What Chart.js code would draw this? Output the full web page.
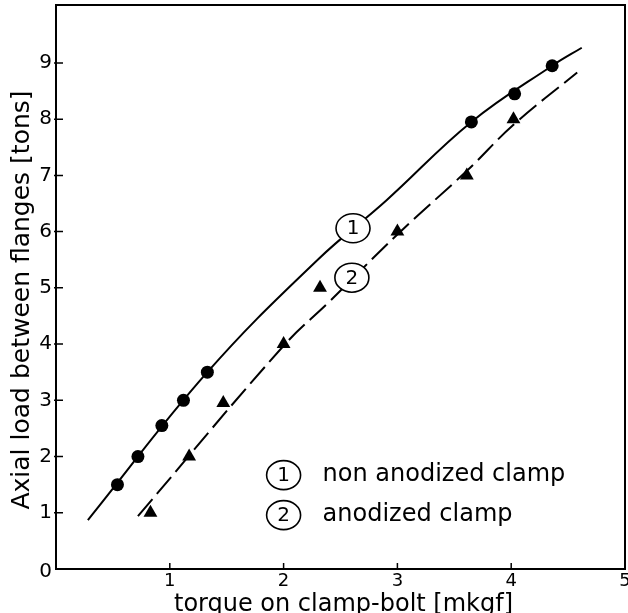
<!DOCTYPE html>
<html>
<head>
<meta charset="utf-8">
<title>Axial load vs torque</title>
<script src="https://cdn.jsdelivr.net/npm/chart.js@4.4.1/dist/chart.umd.min.js"></script>
<style>
	html, body { margin: 0; padding: 0; background: #fff; }
	#wrap { width: 628px; height: 613px; }
</style>
</head>
<body>
<div id="wrap"><canvas id="torqueChart" width="628" height="613"></canvas></div>
<script>
// (1) non anodized clamp - measured points (circles)
const circleTorque = [0.54, 0.72, 0.93, 1.12, 1.33, 3.65, 4.03, 4.36];
const circleLoad   = [1.5, 2.0, 2.55, 3.0, 3.5, 7.95, 8.45, 8.95];

// (2) anodized clamp - measured points (triangles)
const triangleTorque = [0.83, 1.17, 1.47, 2.0, 2.32, 3.0, 3.61, 4.02];
const triangleLoad   = [1.0, 2.0, 2.95, 4.0, 5.0, 6.0, 7.0, 8.0];

// hand drawn curves through the points
const curve1Torque = [0.28, 1.33, 2.3, 2.9, 3.65, 4.36, 4.62];
const curve1Load   = [0.87, 3.5, 5.5, 6.55, 7.95, 8.95, 9.27];
const curve2Torque = [0.72, 2.0, 2.4, 3.0, 3.62, 4.02, 4.58];
const curve2Load   = [0.94, 3.97, 4.75, 5.95, 7.1, 7.9, 8.83];

const xTicks = [1, 2, 3, 4, 5];
const yTicks = [0, 1, 2, 3, 4, 5, 6, 7, 8, 9];

const xTitle = 'torque on clamp-bolt [mkgf]';
const yTitle = 'Axial load between flanges [tons]';
const curveNames = ['non anodized clamp', 'anodized clamp'];

const FONT = "'DejaVu Sans', sans-serif";

document.addEventListener('DOMContentLoaded', function()
{
	drawChart();
});

function toPoints(xs, ys)
{
	return xs.map((x, i) => ({ x: x, y: ys[i] }));
}

// little circled number, like in the drawing
function circledNumber(ctx, cx, cy, txt)
{
	ctx.beginPath();
	ctx.ellipse(cx, cy, 17, 14.5, 0, 0, Math.PI * 2);
	ctx.fillStyle = '#fff';
	ctx.fill();
	ctx.lineWidth = 1.6;
	ctx.strokeStyle = '#000';
	ctx.stroke();
	ctx.fillStyle = '#000';
	ctx.font = '20px ' + FONT;
	ctx.textAlign = 'center';
	ctx.textBaseline = 'middle';
	ctx.fillText(txt, cx, cy + 1);
}

// frame, inward ticks, tick labels, axis titles, curve labels and legend
const framePlugin = {
	id: 'frame',
	afterDatasetsDraw(chart)
	{
		const ctx = chart.ctx;
		const a = chart.chartArea;
		const xs = chart.scales.x;
		const ys = chart.scales.y;

		ctx.save();
		ctx.strokeStyle = '#000';
		ctx.lineWidth = 2;
		ctx.strokeRect(a.left, a.top, a.right - a.left, a.bottom - a.top);

		ctx.lineWidth = 1.5;
		ctx.beginPath();
		yTicks.forEach(v => {
			if (v === 0) return;
			const py = ys.getPixelForValue(v);
			ctx.moveTo(a.left - 2, py);
			ctx.lineTo(a.left + 7, py);
		});
		xTicks.forEach(v => {
			const px = xs.getPixelForValue(v);
			ctx.moveTo(px, a.bottom + 1);
			ctx.lineTo(px, a.bottom - 6);
		});
		ctx.stroke();

		// tick labels
		ctx.fillStyle = '#000';
		ctx.font = '20px ' + FONT;
		ctx.textAlign = 'right';
		ctx.textBaseline = 'middle';
		yTicks.forEach(v => {
			ctx.fillText(String(v), a.left - 4, ys.getPixelForValue(v) + (v === 0 ? 3 : 0));
		});
		ctx.font = '18px ' + FONT;
		ctx.textAlign = 'center';
		ctx.textBaseline = 'top';
		xTicks.forEach(v => {
			ctx.fillText(String(v), xs.getPixelForValue(v), a.bottom + 3);
		});

		// axis titles
		ctx.font = '24px ' + FONT;
		ctx.textAlign = 'center';
		ctx.textBaseline = 'middle';
		ctx.fillText(xTitle, (a.left + a.right) / 2 + 3, a.bottom + 36);

		ctx.save();
		ctx.translate(a.left - 34, (a.top + a.bottom) / 2 + 13);
		ctx.rotate(-Math.PI / 2);
		ctx.font = '25px ' + FONT;
		ctx.fillText(yTitle, 0, 0);
		ctx.restore();

		// numbers on the curves
		circledNumber(ctx, xs.getPixelForValue(2.61), ys.getPixelForValue(6.06), '1');
		circledNumber(ctx, xs.getPixelForValue(2.60), ys.getPixelForValue(5.18), '2');

		// legend box in the lower right
		const lx = xs.getPixelForValue(2.0);
		const ly = ys.getPixelForValue(1.67);
		curveNames.forEach((name, i) => {
			const yy = ly + i * 40;
			circledNumber(ctx, lx, yy, String(i + 1));
			ctx.font = '24px ' + FONT;
			ctx.textAlign = 'left';
			ctx.textBaseline = 'middle';
			ctx.fillText(name, lx + 39, yy);
		});
		ctx.restore();
	}
};

function drawChart()
{
	const ctx = document.getElementById('torqueChart').getContext('2d');
	new Chart(ctx, {
		type: 'scatter',
		data: {
			datasets: [
				{
					label: 'non anodized clamp',
					data: toPoints(circleTorque, circleLoad),
					pointStyle: 'circle',
					pointRadius: 6.5,
					backgroundColor: '#000',
					borderColor: '#000',
					borderWidth: 0
				},
				{
					label: 'anodized clamp',
					data: toPoints(triangleTorque, triangleLoad),
					pointStyle: 'triangle',
					pointRadius: 8,
					backgroundColor: '#000',
					borderColor: '#000',
					borderWidth: 0
				},
				{
					label: 'curve 1',
					data: toPoints(curve1Torque, curve1Load),
					showLine: true,
					pointRadius: 0,
					borderColor: '#000',
					borderWidth: 2,
					tension: 0.4
				},
				{
					label: 'curve 2',
					data: toPoints(curve2Torque, curve2Load),
					showLine: true,
					pointRadius: 0,
					borderColor: '#000',
					borderWidth: 2,
					borderDash: [22, 7],
					tension: 0.4
				}
			]
		},
		options: {
			responsive: false,
			animation: false,
			devicePixelRatio: 1,
			layout: {
				autoPadding: false, // otherwise the point radius pushes the frame inwards
				padding: { top: 5, right: 3, left: 0, bottom: 0 }
			},
			plugins: {
				legend: { display: false },
				tooltip: { enabled: false }
			},
			scales: {
				x: {
					type: 'linear',
					min: 0,
					max: 5,
					afterBuildTicks: s => { s.ticks = xTicks.map(v => ({ value: v })); },
					afterFit: s => { s.height = 44; },
					grid: { display: false, drawTicks: false },
					border: { display: false },
					ticks: { display: false }
				},
				y: {
					type: 'linear',
					min: 0,
					max: 10.03,
					afterBuildTicks: s => { s.ticks = yTicks.map(v => ({ value: v })); },
					afterFit: s => { s.width = 56; },
					grid: { display: false, drawTicks: false },
					border: { display: false },
					ticks: { display: false }
				}
			}
		},
		plugins: [framePlugin]
	});
}
</script>
</body>
</html>
